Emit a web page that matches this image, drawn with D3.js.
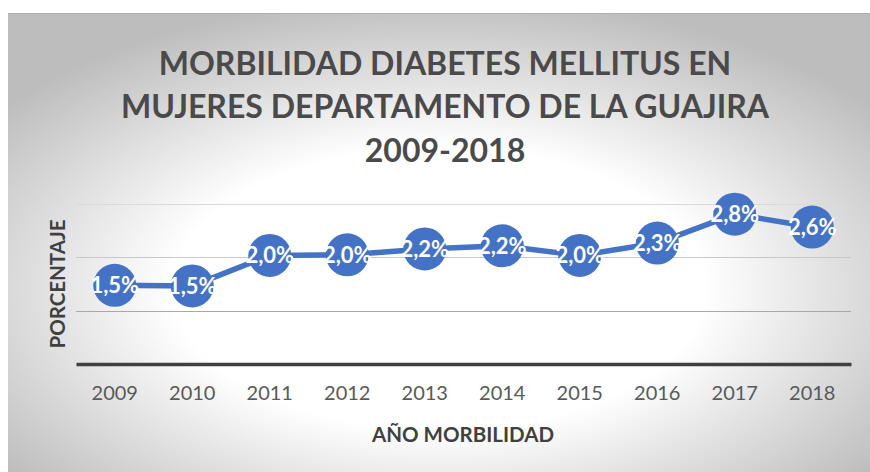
<!DOCTYPE html>
<html><head><meta charset="utf-8">
<script src="https://cdn.jsdelivr.net/npm/d3@7/dist/d3.min.js"></script>
<style>html,body{margin:0;padding:0;background:#fff;}svg{display:block;}</style>
</head><body>
<script>
const years = ['2009','2010','2011','2012','2013','2014','2015','2016','2017','2018'];
const values = [1.47, 1.46, 2.03, 2.04, 2.15, 2.21, 2.03, 2.26, 2.80, 2.56];
const valueLabels = ['1,5%','1,5%','2,0%','2,0%','2,2%','2,2%','2,0%','2,3%','2,8%','2,6%'];
const yTicks = [0, 1, 2, 3];
const titleLines = ['MORBILIDAD DIABETES MELLITUS EN', 'MUJERES DEPARTAMENTO DE LA GUAJIRA', '2009-2018'];
const xTitle = 'AÑO MORBILIDAD';
const yTitle = 'PORCENTAJE';

const W = 870, H = 472;
const font = "Lato, 'Open Sans', sans-serif";
const svg = d3.select('body').append('svg').attr('width', W).attr('height', H);

const defs = svg.append('defs');
const grad = defs.append('radialGradient').attr('id', 'bg')
  .attr('cx', 0.5).attr('cy', 0.6).attr('r', 0.64);
grad.append('stop').attr('offset', 0).attr('stop-color', '#ffffff');
grad.append('stop').attr('offset', 0.48).attr('stop-color', '#ffffff');
grad.append('stop').attr('offset', 1).attr('stop-color', '#bdbdbd');

svg.append('rect').attr('x', 8).attr('y', 13).attr('width', W - 8).attr('height', H - 13)
  .attr('fill', 'url(#bg)');
svg.append('line').attr('x1', 8).attr('x2', W).attr('y1', 13.5).attr('y2', 13.5)
  .attr('stroke', '#b0b0b0').attr('stroke-width', 1);

const x = d3.scaleBand().domain(years).range([76, 851]);
const y = d3.scaleLinear().domain([0, 3]).range([364, 203.5]);

// gridlines
const gridColors = ['#404040', '#a8a8a8', '#c8c8c8', '#dadada'];
svg.append('g').selectAll('line').data(yTicks.filter(d => d > 0)).join('line')
  .attr('x1', 76).attr('x2', 851)
  .attr('y1', d => Math.round(y(d)) + 0.5).attr('y2', d => Math.round(y(d)) + 0.5)
  .attr('stroke', (d, i) => gridColors[i + 1]).attr('stroke-width', 1.2);

// x axis baseline + labels
const xAxis = d3.axisBottom(x).tickSize(0).tickPadding(22);
const gx = svg.append('g').attr('transform', `translate(0,${y(0)})`).call(xAxis);
gx.select('.domain').attr('stroke', '#404040').attr('stroke-width', 3.5);
gx.selectAll('text').attr('font-family', font).attr('font-size', 20)
  .attr('fill', '#595959');

// line
const line = d3.line().x((d, i) => x(years[i]) + x.bandwidth() / 2).y(d => y(d));
svg.append('path').datum(values).attr('d', line).attr('fill', 'none')
  .attr('stroke', '#4472C4').attr('stroke-width', 5.5).attr('stroke-linejoin', 'round');

svg.append('g').selectAll('circle').data(values).join('circle')
  .attr('cx', (d, i) => x(years[i]) + x.bandwidth() / 2).attr('cy', d => y(d))
  .attr('r', 21.5).attr('fill', '#4472C4');

svg.append('g').selectAll('text').data(values).join('text')
  .attr('x', (d, i) => x(years[i]) + x.bandwidth() / 2).attr('y', d => y(d) + 8)
  .attr('text-anchor', 'middle').attr('font-family', font).attr('font-weight', 700)
  .attr('font-size', 22).attr('fill', '#ffffff')
  .text((d, i) => valueLabels[i]);

// title
const titleBase = [75, 118, 162];
svg.append('g').selectAll('text').data(titleLines).join('text')
  .attr('x', 445).attr('y', (d, i) => titleBase[i])
  .attr('text-anchor', 'middle').attr('font-family', font).attr('font-weight', 700)
  .attr('font-size', 32).attr('fill', '#4a4a4a').text(d => d);

// axis titles
svg.append('text').attr('x', 463).attr('y', 442).attr('text-anchor', 'middle')
  .attr('font-family', font).attr('font-weight', 700).attr('font-size', 20.5)
  .attr('fill', '#404040').text(xTitle);
svg.append('text').attr('transform', 'translate(65,284) rotate(-90)').attr('text-anchor', 'middle')
  .attr('font-family', font).attr('font-weight', 700).attr('font-size', 20.5)
  .attr('fill', '#404040').text(yTitle);
</script>
</body></html>
